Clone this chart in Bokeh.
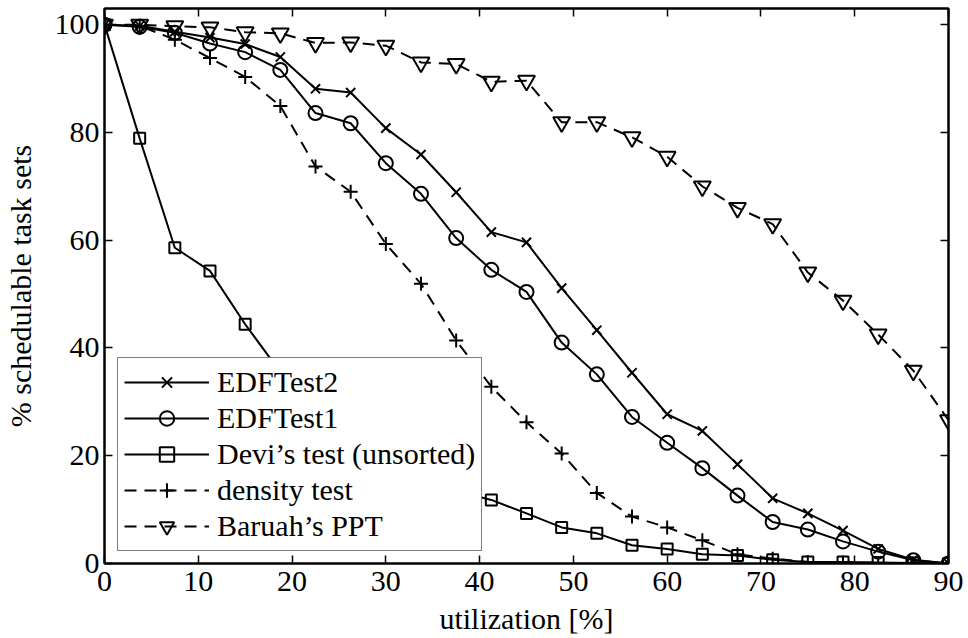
from bokeh.plotting import figure
from bokeh.models import Range1d, FixedTicker, LinearAxis, Legend, LegendItem
from bokeh.embed import file_html
from bokeh.resources import INLINE

utilization = [0, 3.75, 7.5, 11.25, 15, 18.75, 22.5, 26.25, 30, 33.75, 37.5, 41.25,
               45, 48.75, 52.5, 56.25, 60, 63.75, 67.5, 71.25, 75, 78.75, 82.5, 86.25, 90]

edf_test2 = [100, 99.8, 98.7, 97.6, 96.4, 94.0, 88.1, 87.4, 80.8, 75.9, 68.9, 61.5,
             59.6, 51.1, 43.3, 35.4, 27.7, 24.6, 18.4, 12.1, 9.3, 6.1, 2.7, 0.7, 0.0]
edf_test1 = [100, 99.6, 98.5, 96.5, 94.9, 91.6, 83.6, 81.7, 74.3, 68.6, 60.4, 54.5,
             50.4, 41.0, 35.1, 27.2, 22.4, 17.7, 12.6, 7.7, 6.3, 4.1, 2.2, 0.6, 0.0]
devi_unsorted = [100, 78.9, 58.6, 54.3, 44.4, 35.5, 28.5, 23.0, 18.5, 15.5, 13.5, 11.8,
                 9.3, 6.7, 5.6, 3.4, 2.7, 1.7, 1.5, 0.7, 0.3, 0.3, 0.2, 0.1, 0.0]
density_test = [100, 99.8, 97.2, 93.8, 90.3, 84.9, 73.7, 69.0, 59.3, 51.9, 41.4, 32.8,
                26.2, 20.4, 13.1, 8.7, 6.7, 4.3, 1.7, 0.9, 0.3, 0.2, 0.1, 0.0, 0.0]
baruah_ppt = [100, 100, 99.7, 99.5, 98.6, 98.4, 96.6, 96.7, 96.1, 93.0, 92.7, 89.4,
              89.6, 81.9, 81.9, 79.1, 75.5, 70.0, 66.0, 63.0, 54.0, 48.8, 42.5, 35.8, 26.6]

x_ticks = [0, 10, 20, 30, 40, 50, 60, 70, 80, 90]
y_ticks = [0, 20, 40, 60, 80, 100]

FONT = "Liberation Serif"
FS = "30px"

p = figure(width=968, height=638, output_backend="svg", toolbar_location=None,
           x_range=Range1d(0, 90), y_range=Range1d(0, 103),
           min_border_left=103, min_border_right=20, min_border_top=8, min_border_bottom=75)
p.xgrid.visible = False
p.ygrid.visible = False
p.outline_line_color = "black"
p.outline_line_width = 2
p.background_fill_color = "white"
p.border_fill_color = "white"

def style_axis(ax, ticks, labels=True, tick_standoff=4, label_standoff=2):
    ax.ticker = FixedTicker(ticks=ticks)
    ax.major_tick_in = 8
    ax.major_tick_out = 0
    ax.minor_tick_line_color = None
    ax.axis_line_width = 2
    ax.axis_line_color = "black"
    ax.major_tick_line_width = 1.5
    ax.major_tick_line_color = "black"
    ax.major_label_text_font = FONT
    ax.major_label_text_font_size = FS
    if labels:
        ax.major_label_text_color = "black"
        ax.major_label_standoff = tick_standoff
    else:
        ax.major_label_overrides = {t: "" for t in ticks}
        ax.major_label_text_color = None
        ax.major_label_standoff = 0
    ax.axis_label_text_font = FONT
    ax.axis_label_text_font_size = FS
    ax.axis_label_text_font_style = "normal"
    ax.axis_label_text_color = "black"
    ax.axis_label_standoff = label_standoff

style_axis(p.xaxis[0], x_ticks, tick_standoff=8, label_standoff=8)
style_axis(p.yaxis[0], y_ticks, tick_standoff=5, label_standoff=15)
p.xaxis[0].axis_label = "utilization [%]"
p.yaxis[0].axis_label = "% schedulable task sets"

top_ax = LinearAxis()
style_axis(top_ax, x_ticks, labels=False)
p.add_layout(top_ax, "above")
right_ax = LinearAxis()
style_axis(right_ax, y_ticks, labels=False)
p.add_layout(right_ax, "right")

LW = 2
items = []

r1 = p.line(utilization, edf_test2, line_color="black", line_width=LW)
m1 = p.scatter(utilization, edf_test2, marker="x", size=13, line_color="black", line_width=LW)
items.append(LegendItem(label="EDFTest2", renderers=[r1, m1]))

r2 = p.line(utilization, edf_test1, line_color="black", line_width=LW)
m2 = p.scatter(utilization, edf_test1, marker="circle", size=14, line_color="black",
               fill_color=None, line_width=LW)
items.append(LegendItem(label="EDFTest1", renderers=[r2, m2]))

r3 = p.line(utilization, devi_unsorted, line_color="black", line_width=LW)
m3 = p.scatter(utilization, devi_unsorted, marker="square", size=11, line_color="black",
               fill_color=None, line_width=LW)
items.append(LegendItem(label="Devi\u2019s test (unsorted)", renderers=[r3, m3]))

r4 = p.line(utilization, density_test, line_color="black", line_width=LW, line_dash="12 8")
m4 = p.scatter(utilization, density_test, marker="cross", size=14, line_color="black",
               line_width=LW)
items.append(LegendItem(label="density test", renderers=[r4, m4]))

r5 = p.line(utilization, baruah_ppt, line_color="black", line_width=LW, line_dash="12 8")
m5 = p.scatter(utilization, baruah_ppt, marker="inverted_triangle", size=17, line_color="black",
               fill_color=None, line_width=LW)
items.append(LegendItem(label="Baruah\u2019s PPT", renderers=[r5, m5]))

legend = Legend(items=items, location=(13, 12))
legend.label_text_font = FONT
legend.label_text_font_size = FS
legend.label_text_color = "black"
legend.glyph_width = 85
legend.glyph_height = 36
legend.label_height = 36
legend.label_standoff = 8
legend.spacing = 0
legend.padding = 6
legend.margin = 0
legend.border_line_color = "black"
legend.border_line_width = 1.5
legend.background_fill_color = "white"
legend.background_fill_alpha = 1.0
p.add_layout(legend, "center")

open("out.html", "w").write(file_html(p, INLINE))
